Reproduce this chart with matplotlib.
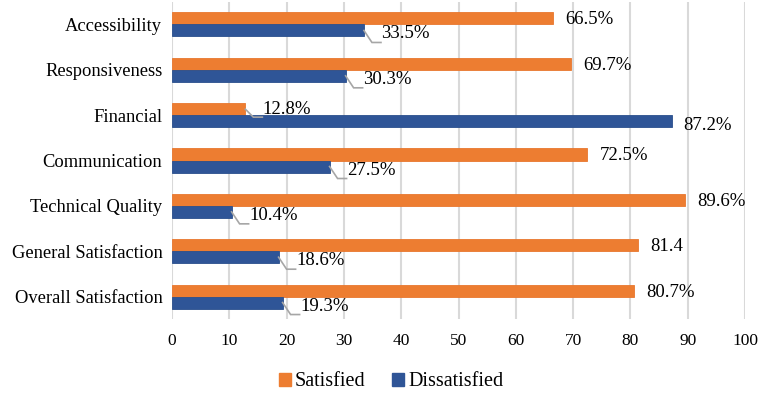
import matplotlib
matplotlib.use("Agg")
import matplotlib.pyplot as plt
from matplotlib.patches import Patch

categories = ["Accessibility", "Responsiveness", "Financial", "Communication",
              "Technical Quality", "General Satisfaction", "Overall Satisfaction"]
satisfied = [66.5, 69.7, 12.8, 72.5, 89.6, 81.4, 80.7]
dissatisfied = [33.5, 30.3, 87.2, 27.5, 10.4, 18.6, 19.3]
sat_labels = ["66.5%", "69.7%", "12.8%", "72.5%", "89.6%", "81.4", "80.7%"]
dis_labels = ["33.5%", "30.3%", "87.2%", "27.5%", "10.4%", "18.6%", "19.3%"]
x_ticks = list(range(0, 101, 10))

ORANGE = "#ED7D31"
BLUE = "#2F5597"
GRAY = "#A6A6A6"
FONT = "Liberation Serif"
plt.rcParams["font.family"] = [FONT, "DejaVu Serif"]
LBL = 13.5

W, H = 765, 395
fig = plt.figure(figsize=(W / 100, H / 100), dpi=100)
ax_l, ax_r, ax_t, ax_b = 172, 745, 1.8, 319.2
ax = fig.add_axes([ax_l / W, 1 - ax_b / H, (ax_r - ax_l) / W, (ax_b - ax_t) / H])

n = len(categories)
ys = list(range(n))
h = 0.265
ax.barh([y - h / 2 for y in ys], satisfied, height=h, color=ORANGE,
        edgecolor="#E8772E", linewidth=0.6, zorder=3)
ax.barh([y + h / 2 for y in ys], dissatisfied, height=h, color=BLUE,
        edgecolor="#2A4F8C", linewidth=0.6, zorder=3)

ax.set_xlim(0, 100)
ax.set_ylim(n - 0.5, -0.5)
ax.set_xticks(x_ticks)
ax.set_yticks(ys)
ax.set_yticklabels(categories)
ax.tick_params(axis="y", length=0, labelsize=13.3, pad=7)
ax.tick_params(axis="x", length=0, labelsize=12.5, pad=10)
for s in ax.spines.values():
    s.set_visible(False)
ax.grid(axis="x", color="#D9D9D9", linewidth=1.5, zorder=0)
ax.set_axisbelow(True)

# pixel -> data conversions
px_x = 100 / (ax_r - ax_l)
px_y = n / (ax_b - ax_t)


def leader_label(val, y, text, text_dy, line_dy):
    x0, y0 = val, y
    x1, y1 = val + 8 * px_x, y + line_dy * px_y
    x2 = val + 17 * px_x
    ax.plot([x0, x1, x2], [y0, y1, y1], color=GRAY, linewidth=1.2,
            zorder=4, solid_joinstyle="miter", clip_on=False)
    ax.text(x2 + 0.5 * px_x, y + text_dy * px_y, text, fontsize=LBL,
            va="center", ha="left", zorder=5)


for i, y in enumerate(ys):
    ys_ = y - h / 2
    yd = y + h / 2
    # satisfied labels
    if satisfied[i] < 50:
        leader_label(satisfied[i], ys_, sat_labels[i], 0, 8)
    else:
        ax.text(satisfied[i] + 12 * px_x, ys_ + 1.5 * px_y, sat_labels[i],
                fontsize=LBL, va="center", ha="left", zorder=5)
    # dissatisfied labels
    if dissatisfied[i] < 50:
        leader_label(dissatisfied[i], yd, dis_labels[i], 3.5, 12)
    else:
        ax.text(dissatisfied[i] + 12 * px_x, yd + 4 * px_y, dis_labels[i],
                fontsize=LBL, va="center", ha="left", zorder=5)

handles = [Patch(facecolor=ORANGE, edgecolor=ORANGE, label="Satisfied"),
           Patch(facecolor=BLUE, edgecolor=BLUE, label="Dissatisfied")]
fig.legend(handles=handles, loc="center", bbox_to_anchor=(391 / W, 1 - 382 / H),
           ncol=2, frameon=False, prop={"family": FONT, "size": 14.5},
           handlelength=0.6, handleheight=0.6, handletextpad=0.2,
           columnspacing=1.3)

fig.savefig("out.png", dpi=100)
